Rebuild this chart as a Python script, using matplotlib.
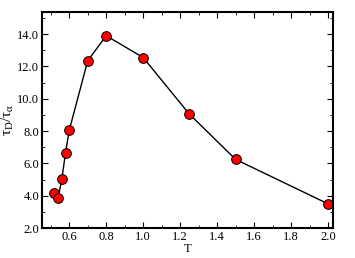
import numpy as np
import matplotlib.pyplot as plt

plt.rcParams['font.family'] = ['Liberation Serif', 'DejaVu Serif']
plt.rcParams['mathtext.fontset'] = 'custom'
plt.rcParams['mathtext.rm'] = 'Liberation Serif'
plt.rcParams['mathtext.it'] = 'Liberation Serif'

# Data
T = [0.52, 0.54, 0.56, 0.58, 0.60, 0.70, 0.80, 1.00, 1.25, 1.50, 2.00]
ratio = [4.15, 3.85, 5.05, 6.65, 8.05, 12.35, 13.9, 12.55, 9.05, 6.25, 3.5]

fig = plt.figure(figsize=(3.55, 2.58), dpi=100)
ax = fig.add_axes([0.118, 0.116, 0.820, 0.837])
ax.plot(T, ratio, color="black", lw=1.0, marker="o", markersize=7,
        markerfacecolor="red", markeredgecolor="black", markeredgewidth=0.7)

ax.set_xlim(0.452, 2.027)
ax.set_ylim(2.0, 15.36)
ax.set_xticks(np.arange(0.6, 2.01, 0.2))
ax.set_xticks(np.arange(0.5, 2.01, 0.1), minor=True)
ax.set_yticks(np.arange(2.0, 14.01, 2.0))
ax.set_yticks(np.arange(3.0, 15.01, 1.0), minor=True)
ax.xaxis.set_major_formatter(plt.FormatStrFormatter("%.1f"))
ax.yaxis.set_major_formatter(plt.FormatStrFormatter("%.1f"))
ax.tick_params(which="both", direction="in", top=True, right=True, labelsize=9)
ax.tick_params(which="major", length=4, width=0.8, pad=2)
ax.tick_params(which="minor", length=2, width=0.6)
for s in ax.spines.values():
    s.set_linewidth(1.5)

ax.set_xlabel("T", fontsize=9, labelpad=0)
ax.set_ylabel(r"τ$_\mathrm{D}$/τ$_\mathrm{α}$", fontsize=11, labelpad=1)

plt.savefig("out.png", dpi=100)
